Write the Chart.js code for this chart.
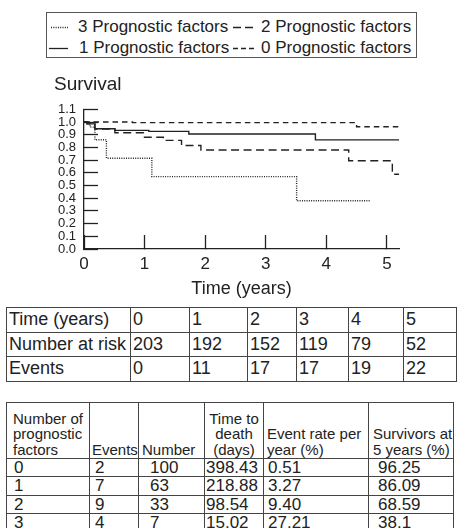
<!DOCTYPE html>
<html>
<head>
<meta charset="utf-8">
<script src="https://cdn.jsdelivr.net/npm/chart.js@4.4.1/dist/chart.umd.min.js"></script>
<style>
  html, body { margin: 0; padding: 0; background: #fff; }
  body { width: 457px; height: 528px; overflow: hidden; position: relative;
         font-family: "Liberation Sans", Arial, sans-serif; color: #222; }
  #legend { position: absolute; left: 46px; top: 12px; width: 369px; height: 44px;
            border: 1px solid #555; }
  .leg { position: absolute; font-size: 17px; line-height: 18px; white-space: nowrap; }
  .leg svg { position: absolute; top: 0; left: 0; }
  #chartBox { position: absolute; left: 0; top: 60px; width: 457px; height: 240px; }
  table { position: absolute; border-collapse: collapse; table-layout: fixed; }
  td { border: 1px solid #444; padding: 0; overflow: hidden; white-space: nowrap; }
  #risk { left: 6px; top: 307px; font-size: 18px; }
  #risk td { height: 23.5px; padding-left: 2px; }
  #summary { left: 6px; top: 402px; }
  #summary td.h { font-size: 15px; line-height: 15.5px; vertical-align: bottom; padding-bottom: 1px; height: 54px; white-space: normal; }
  #summary td.d { font-size: 17px; height: 17.3px; line-height: 17px; }
</style>
</head>
<body>
<div id="legend"></div>
<div id="chartBox"><canvas id="survChart"></canvas></div>
<table id="risk"></table>
<table id="summary"></table>
<script>
// Kaplan-Meier style curves, one per number of prognostic factors
const years0 = [0, 0.8, 4.5, 5.22];
const surv0 = [1.0, 0.995, 0.963, 0.963];
const years1 = [0, 0.05, 0.18, 0.51, 1.07, 1.73, 3.82, 5.22];
const surv1 = [1.0, 0.985, 0.947, 0.934, 0.926, 0.906, 0.859, 0.859];
const years2 = [0, 0.05, 0.18, 0.51, 0.98, 1.31, 1.61, 1.93, 4.37, 5.09, 5.22];
const surv2 = [1.0, 0.985, 0.945, 0.915, 0.88, 0.855, 0.815, 0.78, 0.695, 0.588, 0.588];
const years3 = [0, 0.1, 0.18, 0.37, 1.12, 3.51, 4.73];
const surv3 = [1.0, 0.96, 0.86, 0.715, 0.57, 0.38, 0.38];

const seriesLabels = ['3 Prognostic factors', '2 Prognostic factors', '1 Prognostic factors', '0 Prognostic factors'];

// number at risk table
const riskTimes = ['0', '1', '2', '3', '4', '5'];
const riskNumbers = ['203', '192', '152', '119', '79', '52'];
const riskEvents = ['0', '11', '17', '17', '19', '22'];

// summary table
const summaryHeaders = ['Number of prognostic factors', 'Events', 'Number', 'Time to death (days)', 'Event rate per year (%)', 'Survivors at 5 years (%)'];
const factorCounts = ['0', '1', '2', '3'];
const factorEvents = ['2', '7', '9', '4'];
const factorNumbers = ['100', '63', '33', '7'];
const timeToDeath = ['398.43', '218.88', '98.54', '15.02'];
const eventRate = ['0.51', '3.27', '9.40', '27.21'];
const survivors5y = ['96.25', '86.09', '68.59', '38.1'];

const lineColor = '#222';

function toPoints(xs, ys) {
    return xs.map((x, i) => ({ x: x, y: ys[i] }));
}

// Legend (drawn as html so the boxed 2x2 layout matches)
const legendSpecs = [
    { dash: '1,1.3', left: 4, top: 5, sw: 17, text: seriesLabels[0], tx: 27 },
    { dash: '8,4', left: 186, top: 5, sw: 24, text: seriesLabels[1], tx: 28 },
    { dash: '', left: 2, top: 26, sw: 19, text: seriesLabels[2], tx: 30 },
    { dash: '5,3', left: 186, top: 26, sw: 24, text: seriesLabels[3], tx: 28 }
];
const legendEl = document.getElementById('legend');
legendSpecs.forEach(s => {
    const item = document.createElement('div');
    item.className = 'leg';
    item.style.left = s.left + 'px';
    item.style.top = s.top + 'px';
    item.innerHTML = '<svg width="' + s.sw + '" height="18"><line x1="0" y1="9.5" x2="' + s.sw +
        '" y2="9.5" stroke="' + lineColor + '" stroke-width="1.3"' +
        (s.dash ? ' stroke-dasharray="' + s.dash + '"' : '') + '/></svg>' +
        '<span style="position:absolute;left:' + s.tx + 'px;top:0;">' + s.text + '</span>';
    legendEl.appendChild(item);
});

// Chart
const ctx = document.getElementById('survChart').getContext('2d');
new Chart(ctx, {
    type: 'line',
    data: {
        datasets: [
            { label: seriesLabels[0], data: toPoints(years3, surv3), borderDash: [1, 1.3] },
            { label: seriesLabels[1], data: toPoints(years2, surv2), borderDash: [8, 4.5] },
            { label: seriesLabels[2], data: toPoints(years1, surv1), borderDash: [] },
            { label: seriesLabels[3], data: toPoints(years0, surv0), borderDash: [5.5, 4] }
        ].map(d => Object.assign(d, {
            borderColor: lineColor,
            borderWidth: 1.4,
            stepped: 'before',
            pointRadius: 0,
            fill: false
        }))
    },
    options: {
        responsive: true,
        maintainAspectRatio: false,
        animation: false,
        layout: { padding: { left: 54, right: 58, top: 0, bottom: 0 } },
        plugins: {
            legend: { display: false },
            tooltip: { enabled: false },
            title: {
                display: true,
                text: 'Survival',
                align: 'start',
                color: lineColor,
                font: { family: 'Liberation Sans', size: 19, weight: 'normal' },
                padding: { top: 13.6, bottom: 12.9 }
            }
        },
        scales: {
            x: {
                type: 'linear',
                min: 0,
                max: 5.2,
                afterFit: function(scale) { scale.height = 51; },
                border: { display: true, color: lineColor, width: 1.3 },
                grid: { drawOnChartArea: false, drawTicks: true, tickLength: -14, tickColor: lineColor, tickWidth: 1.3 },
                ticks: {
                    stepSize: 1,
                    includeBounds: false,
                    padding: 19,
                    color: lineColor,
                    font: { family: 'Liberation Sans', size: 17 },
                    maxRotation: 0
                },
                title: {
                    display: true,
                    text: 'Time (years)',
                    color: lineColor,
                    font: { family: 'Liberation Sans', size: 18 },
                    padding: { top: 0, bottom: 0 }
                }
            },
            y: {
                type: 'linear',
                min: 0,
                max: 1.1,
                afterFit: function(scale) { scale.width = 30; },
                border: { display: true, color: lineColor, width: 1.3 },
                grid: { drawOnChartArea: false, drawTicks: true, tickLength: -14, tickColor: lineColor, tickWidth: 1.3 },
                ticks: {
                    stepSize: 0.1,
                    autoSkip: false,
                    padding: 22,
                    color: lineColor,
                    font: { family: 'Liberation Sans', size: 13, lineHeight: 1 },
                    callback: v => v.toFixed(1)
                }
            }
        }
    }
});

// Tables
function makeRow(cells, cls, styles) {
    const tr = document.createElement('tr');
    cells.forEach((c, i) => {
        const td = document.createElement('td');
        if (cls) td.className = cls;
        td.textContent = c;
        if (styles && styles[i]) td.setAttribute('style', styles[i]);
        tr.appendChild(td);
    });
    return tr;
}

const riskWidths = [124, 59, 58, 49, 52, 55, 53];
const risk = document.getElementById('risk');
const cg1 = document.createElement('colgroup');
riskWidths.forEach(w => { const c = document.createElement('col'); c.style.width = w + 'px'; cg1.appendChild(c); });
risk.appendChild(cg1);
risk.appendChild(makeRow(['Time (years)'].concat(riskTimes)));
risk.appendChild(makeRow(['Number at risk'].concat(riskNumbers)));
risk.appendChild(makeRow(['Events'].concat(riskEvents)));

const sumWidths = [83, 49, 66, 59, 105, 85];
const sumPads = ['padding-left:7px', 'padding-left:5px', 'padding-left:11px', 'padding-left:1px', 'padding-left:4px', 'padding-left:9px'];
const summary = document.getElementById('summary');
const cg2 = document.createElement('colgroup');
sumWidths.forEach(w => { const c = document.createElement('col'); c.style.width = w + 'px'; cg2.appendChild(c); });
summary.appendChild(cg2);
summary.appendChild(makeRow(summaryHeaders, 'h', [
    'padding-left:6px', 'padding-left:2px', 'padding-left:3px', 'text-align:center', 'padding-left:3px', 'padding-left:4px'
]));
factorCounts.forEach((f, i) => {
    summary.appendChild(makeRow([f, factorEvents[i], factorNumbers[i], timeToDeath[i], eventRate[i], survivors5y[i]], 'd', sumPads));
});
</script>
</body>
</html>
